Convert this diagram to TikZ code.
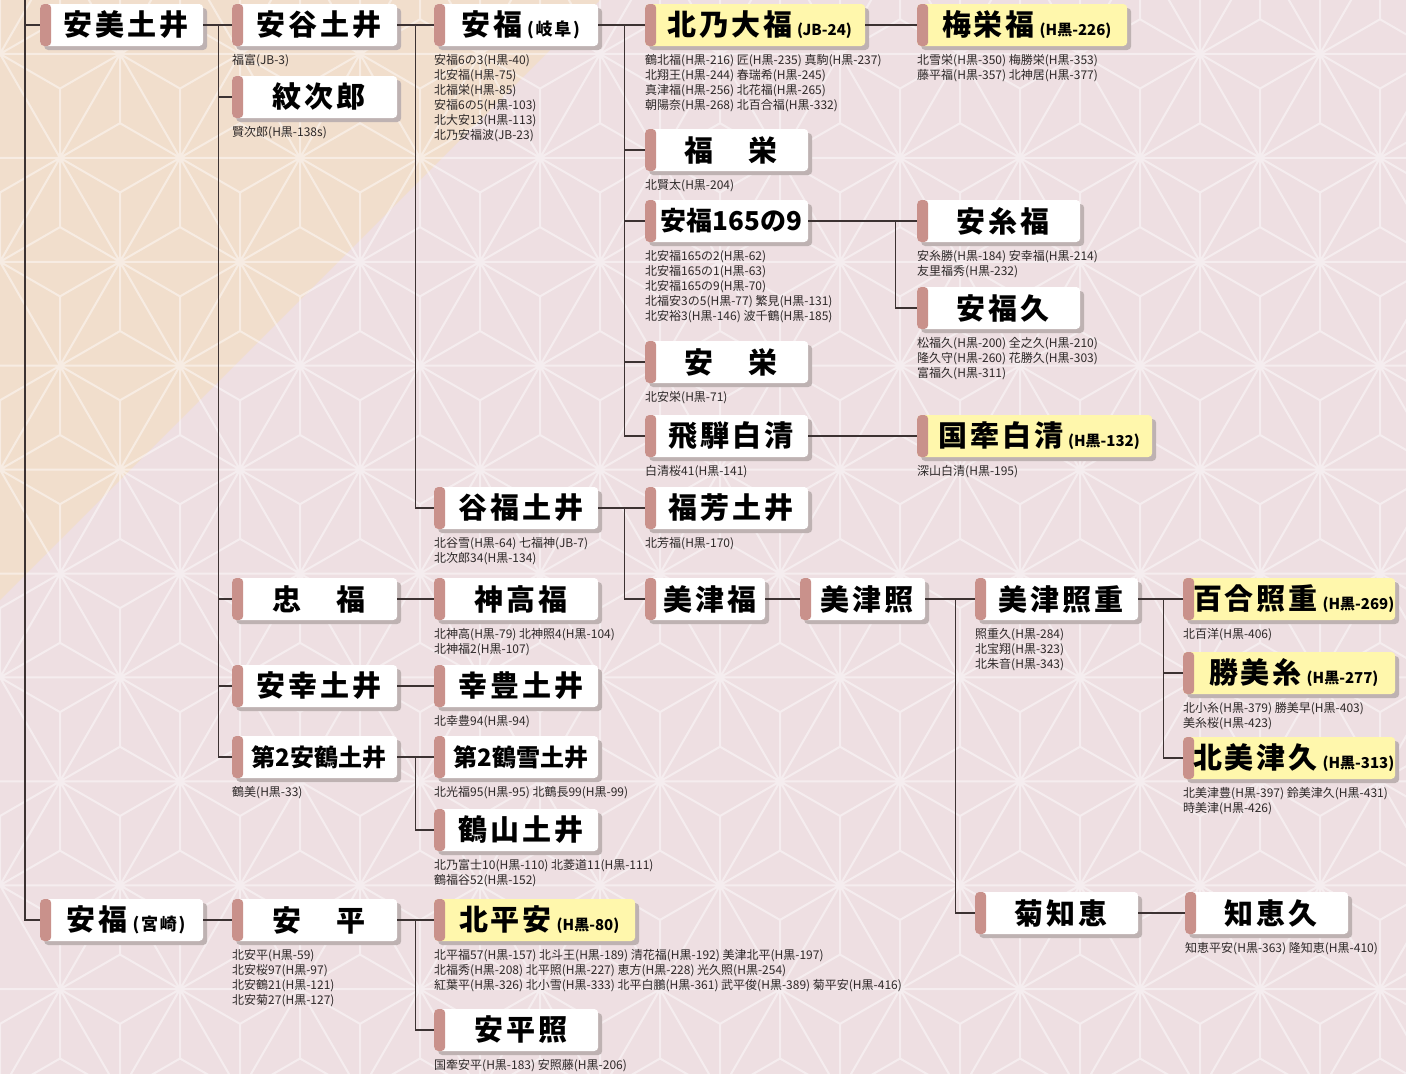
\documentclass[tikz,border=0pt]{standalone}
\usepackage{fontspec}
\usepackage{tikz}
\usetikzlibrary{positioning,shadows}

\newfontfamily\jp{Noto Sans CJK JP}
\newfontfamily\jpname{Noto Sans CJK JP}[LetterSpace=10]
\newcommand\namefont{\jpname\bfseries\fontsize{29}{30}\selectfont}
\newcommand\kidfont{\jp\fontsize{12}{15}\selectfont}
\newcommand\regfont{\jp\bfseries\fontsize{15}{15}\selectfont}

\definecolor{bgpink}{RGB}{238,223,226}
\definecolor{bgbeige}{RGB}{241,222,204}
\definecolor{barred}{RGB}{201,145,139}
\definecolor{boxshade}{RGB}{190,178,178}
\definecolor{starbox}{RGB}{255,247,172}
\definecolor{linkgray}{RGB}{60,50,50}
\definecolor{kidgray}{RGB}{45,40,40}

\begin{document}
\begin{tikzpicture}[x=1pt,y=-1pt,
  bull/.style={fill=white, rounded corners=4pt, minimum width=165pt, minimum height=42pt,
    inner sep=0pt, anchor=west, font=\namefont, execute at begin node={\hspace*{9pt}},
    drop shadow={shadow xshift=4pt, shadow yshift=-4pt, fill=boxshade, opacity=1},
    path picture={\fill[barred] (path picture bounding box.north west) rectangle ([xshift=11pt]path picture bounding box.south west);}},
  bullgold/.style={bull, fill=starbox},
  bullsmall/.style={font=\jp\bfseries\fontsize{24}{28}\selectfont},
  kids/.style={inner sep=0pt, align=left, font=\kidfont, text=kidgray},
  link/.style={draw=linkgray, line width=1.2pt}]
  \useasboundingbox (0,0) rectangle (1406,1074);
  % background
  \fill[bgpink] (0,0) rectangle (1406,1074);
  \fill[bgbeige] (0,0) -- (600,0) -- (0,600) -- cycle;
  \begin{scope}
    \clip (0,0) rectangle (1406,1074);
    \draw[white, opacity=.45, line width=2pt]
      foreach \j in {0,...,11} { foreach \i in {0,...,12} {
        ({\i*120+mod(\j,2)*60-60},{\j*103.92-50}) -- ++(120,0) -- ++(-60,103.92) -- cycle
        ({\i*120+mod(\j,2)*60-60},{\j*103.92-50}) -- ++(60,34.64) -- ++(60,-34.64)
        ({\i*120+mod(\j,2)*60},{\j*103.92-15.36}) -- ++(0,69.28)
        ({\i*120+mod(\j,2)*60+60},{\j*103.92-50}) -- ++(0,69.28) -- ++(-60,34.64)
        ({\i*120+mod(\j,2)*60+60},{\j*103.92+19.28}) -- ++(60,34.64)
      }};
  \end{scope}

  % column 1
  \node[bull, minimum width=163pt] (anmi) at (40,25) {安美土井};
  \node[bull, minimum width=163pt] (anfkm) at (40,920) {安福\,{\fontsize{17}{17}\selectfont(宮崎)}};
  % column 2
  \node[bull] (anya) at (232,25) {安谷土井};
  \node[bull] (monji) at (232,97) {紋次郎};
  \node[bull] (chufu) at (232,599) {忠　福};
  \node[bull] (anko) at (232,686) {安幸土井};
  \node[bull, bullsmall] (antsu) at (232,757) {第2安鶴土井};
  \node[bull] (anhei) at (232,920) {安　平};
  % column 3
  \node[bull, minimum width=164pt] (anfg) at (434,25) {安福\,{\fontsize{17}{17}\selectfont(岐阜)}};
  \node[bull, minimum width=164pt] (tani) at (434,508) {谷福土井};
  \node[bull, minimum width=164pt] (jinko) at (434,599) {神高福};
  \node[bull, minimum width=164pt] (koho) at (434,686) {幸豊土井};
  \node[bull, minimum width=164pt, bullsmall] (tsuyu) at (434,757) {第2鶴雪土井};
  \node[bull, minimum width=164pt] (tsuyama) at (434,830) {鶴山土井};
  \node[bullgold, minimum width=201pt] (kitahei) at (434,920) {北平安\,{\regfont(H黒-80)}};
  \node[bull, minimum width=164pt] (anheiteru) at (434,1030) {安平照};
  % column 4
  \node[bullgold, minimum width=220pt] (kitano) at (645,25) {北乃大福\,{\regfont(JB-24)}};
  \node[bull, minimum width=163pt] (fukuei) at (645,150) {福　栄};
  \node[bull, minimum width=163pt, font=\jp\bfseries\fontsize{26}{28}\selectfont] (an1659) at (645,221) {安福165の9};
  \node[bull, minimum width=163pt] (anei) at (645,362) {安　栄};
  \node[bull, minimum width=163pt] (hida) at (645,436) {飛騨白清};
  \node[bull, minimum width=163pt] (fukuyo) at (645,508) {福芳土井};
  \node[bull, minimum width=120pt] (mitsufu) at (645,599) {美津福};
  \node[bull, minimum width=125pt] (mitsuteru) at (800,599) {美津照};
  % column 5
  \node[bullgold, minimum width=210pt] (umeei) at (917,25) {梅栄福\,{\regfont(H黒-226)}};
  \node[bull, minimum width=163pt] (anito) at (917,221) {安糸福};
  \node[bull, minimum width=163pt] (anfkq) at (917,308) {安福久};
  \node[bullgold, minimum width=235pt] (kokken) at (917,436) {国牽白清\,{\regfont(H黒-132)}};
  % column 6
  \node[bull, minimum width=163pt] (mteruju) at (975,599) {美津照重};
  \node[bull, minimum width=163pt] (kikuchie) at (975,913) {菊知恵};
  % column 7
  \node[bullgold, minimum width=212pt] (yuri) at (1183,599) {百合照重\,{\regfont(H黒-269)}};
  \node[bullgold, minimum width=212pt] (katsumi) at (1183,673) {勝美糸\,{\regfont(H黒-277)}};
  \node[bullgold, minimum width=212pt] (kitamitsu) at (1183,758) {北美津久\,{\regfont(H黒-313)}};
  \node[bull, minimum width=163pt] (chiehisa) at (1185,913) {知恵久};

  % offspring lists
  \node[kids, below right=8pt and 0pt of anya.south west] (anya-k) {福富(JB-3)};
  \node[kids, below right=8pt and 0pt of monji.south west] (monji-k) {賢次郎(H黒-138s)};
  \node[kids, below right=8pt and 0pt of anfg.south west] (anfg-k) {安福6の3(H黒-40)\\北安福(H黒-75)\\北福栄(H黒-85)\\安福6の5(H黒-103)\\北大安13(H黒-113)\\北乃安福波(JB-23)};
  \node[kids, below right=8pt and 0pt of kitano.south west] (kitano-k) {鶴北福(H黒-216) 匠(H黒-235) 真駒(H黒-237)\\北翔王(H黒-244) 春瑞希(H黒-245)\\真津福(H黒-256) 北花福(H黒-265)\\朝陽奈(H黒-268) 北百合福(H黒-332)};
  \node[kids, below right=8pt and 0pt of umeei.south west] (umeei-k) {北雪栄(H黒-350) 梅勝栄(H黒-353)\\藤平福(H黒-357) 北神居(H黒-377)};
  \node[kids, below right=8pt and 0pt of fukuei.south west] (fukuei-k) {北賢太(H黒-204)};
  \node[kids, below right=8pt and 0pt of an1659.south west] (an1659-k) {北安福165の2(H黒-62)\\北安福165の1(H黒-63)\\北安福165の9(H黒-70)\\北福安3の5(H黒-77) 繁見(H黒-131)\\北安裕3(H黒-146) 波千鶴(H黒-185)};
  \node[kids, below right=8pt and 0pt of anito.south west] (anito-k) {安糸勝(H黒-184) 安幸福(H黒-214)\\友里福秀(H黒-232)};
  \node[kids, below right=8pt and 0pt of anfkq.south west] (anfkq-k) {松福久(H黒-200) 全之久(H黒-210)\\隆久守(H黒-260) 花勝久(H黒-303)\\富福久(H黒-311)};
  \node[kids, below right=8pt and 0pt of anei.south west] (anei-k) {北安栄(H黒-71)};
  \node[kids, below right=8pt and 0pt of hida.south west] (hida-k) {白清桜41(H黒-141)};
  \node[kids, below right=8pt and 0pt of kokken.south west] (kokken-k) {深山白清(H黒-195)};
  \node[kids, below right=8pt and 0pt of tani.south west] (tani-k) {北谷雪(H黒-64) 七福神(JB-7)\\北次郎34(H黒-134)};
  \node[kids, below right=8pt and 0pt of fukuyo.south west] (fukuyo-k) {北芳福(H黒-170)};
  \node[kids, below right=8pt and 0pt of jinko.south west] (jinko-k) {北神高(H黒-79) 北神照4(H黒-104)\\北神福2(H黒-107)};
  \node[kids, below right=8pt and 0pt of mteruju.south west] (mteruju-k) {照重久(H黒-284)\\北宝翔(H黒-323)\\北朱音(H黒-343)};
  \node[kids, below right=8pt and 0pt of yuri.south west] (yuri-k) {北百洋(H黒-406)};
  \node[kids, below right=8pt and 0pt of katsumi.south west] (katsumi-k) {北小糸(H黒-379) 勝美早(H黒-403)\\美糸桜(H黒-423)};
  \node[kids, below right=8pt and 0pt of kitamitsu.south west] (kitamitsu-k) {北美津豊(H黒-397) 鈴美津久(H黒-431)\\時美津(H黒-426)};
  \node[kids, below right=8pt and 0pt of koho.south west] (koho-k) {北幸豊94(H黒-94)};
  \node[kids, below right=8pt and 0pt of antsu.south west] (antsu-k) {鶴美(H黒-33)};
  \node[kids, below right=8pt and 0pt of tsuyu.south west] (tsuyu-k) {北光福95(H黒-95) 北鶴長99(H黒-99)};
  \node[kids, below right=8pt and 0pt of tsuyama.south west] (tsuyama-k) {北乃富士10(H黒-110) 北菱道11(H黒-111)\\鶴福谷52(H黒-152)};
  \node[kids, below right=8pt and 0pt of anhei.south west] (anhei-k) {北安平(H黒-59)\\北安桜97(H黒-97)\\北安鶴21(H黒-121)\\北安菊27(H黒-127)};
  \node[kids, below right=8pt and 0pt of kitahei.south west] (kitahei-k) {北平福57(H黒-157) 北斗王(H黒-189) 清花福(H黒-192) 美津北平(H黒-197)\\北福秀(H黒-208) 北平照(H黒-227) 恵方(H黒-228) 光久照(H黒-254)\\紅葉平(H黒-326) 北小雪(H黒-333) 北平白鵬(H黒-361) 武平俊(H黒-389) 菊平安(H黒-416)};
  \node[kids, below right=8pt and 0pt of anheiteru.south west] (anheiteru-k) {国牽安平(H黒-183) 安照藤(H黒-206)};
  \node[kids, below right=8pt and 0pt of chiehisa.south west] (chiehisa-k) {知恵平安(H黒-363) 隆知恵(H黒-410)};

  % lines
  \coordinate (root) at (25,0);
  \draw[link] (root) |- (anmi.west);
  \draw[link] (root) |- (anfkm.west);
  \draw[link] (anmi.east) -- (anya.west);
  \foreach \n in {monji,chufu,anko,antsu}
    \draw[link] (anmi.east) -- ++(15,0) |- (\n.west);
  \draw[link] (anfkm.east) -- (anhei.west);
  \draw[link] (anya.east) -- (anfg.west);
  \draw[link] (anya.east) -- ++(18,0) |- (tani.west);
  \draw[link] (chufu.east) -- (jinko.west);
  \draw[link] (anko.east) -- (koho.west);
  \draw[link] (antsu.east) -- (tsuyu.west);
  \draw[link] (antsu.east) -- ++(18,0) |- (tsuyama.west);
  \draw[link] (anhei.east) -- (kitahei.west);
  \draw[link] (anhei.east) -- ++(18,0) |- (anheiteru.west);
  \draw[link] (anfg.east) -- (kitano.west);
  \foreach \n in {fukuei,an1659,anei,hida}
    \draw[link] (anfg.east) -- ++(26,0) |- (\n.west);
  \draw[link] (tani.east) -- (fukuyo.west);
  \draw[link] (tani.east) -- ++(26,0) |- (mitsufu.west);
  \draw[link] (kitano.east) -- (umeei.west);
  \draw[link] (an1659.east) -- (anito.west);
  \draw[link] (an1659.east) -- ++(87,0) |- (anfkq.west);
  \draw[link] (hida.east) -- (kokken.west);
  \draw[link] (mitsufu.east) -- (mitsuteru.west);
  \draw[link] (mitsuteru.east) -- (mteruju.west);
  \draw[link] (mitsuteru.east) -- ++(30,0) |- (kikuchie.west);
  \draw[link] (mteruju.east) -- (yuri.west);
  \foreach \n in {katsumi,kitamitsu}
    \draw[link] (mteruju.east) -- ++(25,0) |- (\n.west);
  \draw[link] (kikuchie.east) -- (chiehisa.west);
\end{tikzpicture}
\end{document}
